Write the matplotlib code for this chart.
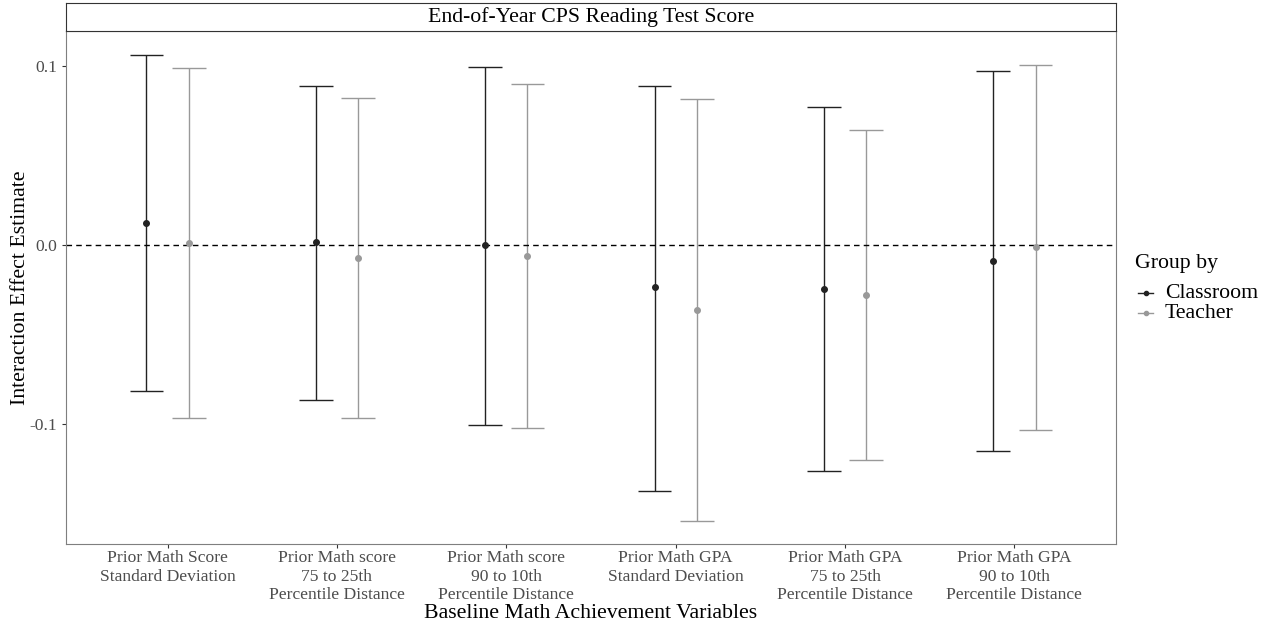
import numpy as np
import matplotlib.pyplot as plt
from matplotlib.lines import Line2D

plt.rcParams['font.family'] = ['Liberation Serif', 'DejaVu Serif']

# Data
categories = [
    "Prior Math Score\nStandard Deviation",
    "Prior Math score\n75 to 25th\nPercentile Distance",
    "Prior Math score\n90 to 10th\nPercentile Distance",
    "Prior Math GPA\nStandard Deviation",
    "Prior Math GPA\n75 to 25th\nPercentile Distance",
    "Prior Math GPA\n90 to 10th\nPercentile Distance",
]
classroom_est = [0.0123, 0.0017, 0.0000, -0.0235, -0.0246, -0.0089]
classroom_lo = [-0.0816, -0.0866, -0.1006, -0.1374, -0.1263, -0.1151]
classroom_hi = [0.1061, 0.0888, 0.0994, 0.0888, 0.0771, 0.0972]
teacher_est = [0.0011, -0.0073, -0.0061, -0.0363, -0.0279, -0.0011]
teacher_lo = [-0.0966, -0.0966, -0.1022, -0.1542, -0.1201, -0.1034]
teacher_hi = [0.0989, 0.0821, 0.0899, 0.0816, 0.0642, 0.1006]

groups = [
    ("Classroom", "#222222", classroom_est, classroom_lo, classroom_hi, -0.125),
    ("Teacher", "#999999", teacher_est, teacher_lo, teacher_hi, 0.125),
]

W, H = 1267, 625
fig = plt.figure(figsize=(W / 100, H / 100), dpi=100)
ax = fig.add_axes([66 / W, 1 - 544 / H, 1050 / W, 513 / H])

x = np.arange(1, len(categories) + 1)
cap = 0.1
for name, color, est, lo, hi, off in groups:
    xs = x + off
    ax.vlines(xs, lo, hi, color=color, lw=1.0)
    ax.hlines(lo, xs - cap, xs + cap, color=color, lw=1.0)
    ax.hlines(hi, xs - cap, xs + cap, color=color, lw=1.0)
    ax.plot(xs, est, 'o', color=color, ms=4, zorder=3)

ax.axhline(0, color="black", ls=(0, (4, 3)), lw=1.0)

ax.set_xlim(0.4, 6.6)
ax.set_ylim(-0.167, 0.1196)
ax.set_xticks(x)
ax.set_xticklabels(categories, fontsize=12.6, color="#4D4D4D", linespacing=1.2)
ax.set_yticks([-0.1, 0.0, 0.1])
ax.set_yticklabels(["-0.1", "0.0", "0.1"], fontsize=12.6, color="#4D4D4D")
ax.tick_params(length=3, color="#333333")
ax.tick_params(axis="x", pad=1.5)
for s in ax.spines.values():
    s.set_color("#7F7F7F")
    s.set_linewidth(0.8)

ax.set_xlabel("Baseline Math Achievement Variables", fontsize=15.7)
ax.xaxis.set_label_coords(0.5, -(614 - 544) / 513)
ax.xaxis.label.set_va("center")
ax.set_ylabel("Interaction Effect Estimate", fontsize=15.7)
ax.yaxis.set_label_coords(-(66 - 21) / 1050, 0.5)
ax.yaxis.label.set_va("center")

# facet strip
strip = fig.add_axes([66 / W, 1 - 31 / H, 1050 / W, 28 / H])
strip.set_xticks([])
strip.set_yticks([])
for s in strip.spines.values():
    s.set_color("#333333")
    s.set_linewidth(0.8)
strip.text(0.5, 0.5, "End-of-Year CPS Reading Test Score", ha="center", va="center",
           fontsize=15.7, transform=strip.transAxes)

# legend drawn by hand to match the spacing
fig.text(1135 / W, 1 - 263 / H, "Group by", fontsize=15.7, va="center", ha="left")
for i, (name, color, *_rest) in enumerate(groups):
    yy = 1 - (293 + 20 * i) / H
    fig.add_artist(Line2D([1138 / W, 1153 / W], [yy, yy], color=color, lw=1.0))
    fig.add_artist(Line2D([1145.5 / W], [yy], color=color, marker='o', ms=3))
    fig.text(1165 / W, yy, name, fontsize=15.7, va="center", ha="left")

fig.savefig("out.png", dpi=100)
